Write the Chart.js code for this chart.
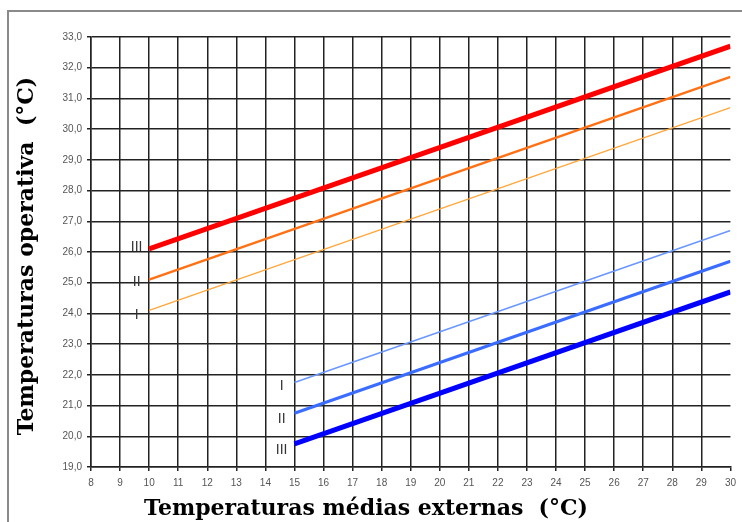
<!DOCTYPE html>
<html>
<head>
<meta charset="utf-8">
<script src="https://cdn.jsdelivr.net/npm/chart.js@4"></script>
<style>
  html, body { margin: 0; padding: 0; background: #fff; }
  canvas { display: block; }
</style>
</head>
<body>
<canvas id="chart" width="742" height="522"></canvas>
<script>
// x positions where the lines start / end
const upperX = [10, 30];
const lowerX = [15, 30];

// operative temperature limits
const upperIII = [26.1, 32.7];
const upperII = [25.1, 31.7];
const upperI = [24.1, 30.7];
const lowerI = [21.75, 26.7];
const lowerII = [20.75, 25.7];
const lowerIII = [19.75, 24.7];

// category labels next to line starts
const catNames = ["III", "II", "I"];
const upperLabelX = 9.57;
const upperLabelY = [26.16, 25.02, 23.95];
const lowerLabelX = 14.56;
const lowerLabelY = [19.55, 20.56, 21.64];

const xTitle = "Temperaturas médias externas  (°C)";
const yTitle = "Temperaturas operativa  (°C)";

const pts = (xs, ys) => xs.map((x, i) => ({ x, y: ys[i] }));
const line = (data, color, width) => ({
  data, borderColor: color, borderWidth: width, pointRadius: 0, fill: false, tension: 0
});

const extras = {
  id: "extras",
  beforeDraw(chart) {
    const c = chart.ctx;
    c.save();
    c.fillStyle = "#fff";
    c.fillRect(0, 0, chart.width, chart.height);
    c.restore();
  },
  afterDraw(chart) {
    const c = chart.ctx;
    const { x, y } = chart.scales;
    c.save();
    // outer frame
    c.strokeStyle = "#8a8a8a";
    c.lineWidth = 2;
    c.strokeRect(8, 11, 800, 600);

    // roman numerals
    c.fillStyle = "#333";
    c.font = "14px 'Liberation Sans', Arial, sans-serif";
    c.textAlign = "center";
    c.textBaseline = "middle";
    catNames.forEach((n, i) => {
      c.fillText(n, x.getPixelForValue(upperLabelX), y.getPixelForValue(upperLabelY[i]));
      c.fillText(n, x.getPixelForValue(lowerLabelX), y.getPixelForValue(lowerLabelY[i]));
    });

    // axis titles
    c.fillStyle = "#000";
    c.font = "bold 22px 'DejaVu Serif', serif";
    c.fillText(xTitle, 366, 509);
    c.translate(27, 256);
    c.rotate(-Math.PI / 2);
    c.fillText(yTitle, 0, 0);
    c.restore();
  }
};

const gridCol = "#222";
const tickFont = { family: "'Liberation Sans', Arial, sans-serif", size: 10 };

new Chart(document.getElementById("chart"), {
  type: "line",
  data: {
    datasets: [
      line(pts(upperX, upperI), "#ffa63a", 1.3),
      line(pts(upperX, upperII), "#ff7114", 2.5),
      line(pts(upperX, upperIII), "#ff0000", 5),
      line(pts(lowerX, lowerI), "#6a96ff", 1.5),
      line(pts(lowerX, lowerII), "#3a6cff", 3),
      line(pts(lowerX, lowerIII), "#0000ff", 5)
    ]
  },
  options: {
    responsive: false,
    animation: false,
    layout: { padding: { left: 0, top: 37, right: 7, bottom: 0 } },
    plugins: { legend: { display: false }, tooltip: { enabled: false } },
    scales: {
      x: {
        type: "linear", min: 8, max: 30,
        afterFit: s => { s.height = 55; },
        ticks: { stepSize: 1, color: "#555", font: tickFont, padding: 6, maxRotation: 0 },
        grid: {
          color: ctx => (ctx.tick && ctx.tick.value === 30 ? "rgba(0,0,0,0)" : gridCol),
          tickColor: gridCol, lineWidth: 1.5, tickLength: 4
        },
        border: { color: gridCol, width: 1.5 }
      },
      y: {
        min: 19, max: 33,
        afterFit: s => { s.width = 91; },
        ticks: {
          stepSize: 1, color: "#555", font: tickFont, padding: 5,
          callback: v => v.toFixed(1).replace(".", ",")
        },
        grid: { color: gridCol, lineWidth: 1.5, tickLength: 4 },
        border: { color: gridCol, width: 1.5 }
      }
    }
  },
  plugins: [extras]
});
</script>
</body>
</html>
